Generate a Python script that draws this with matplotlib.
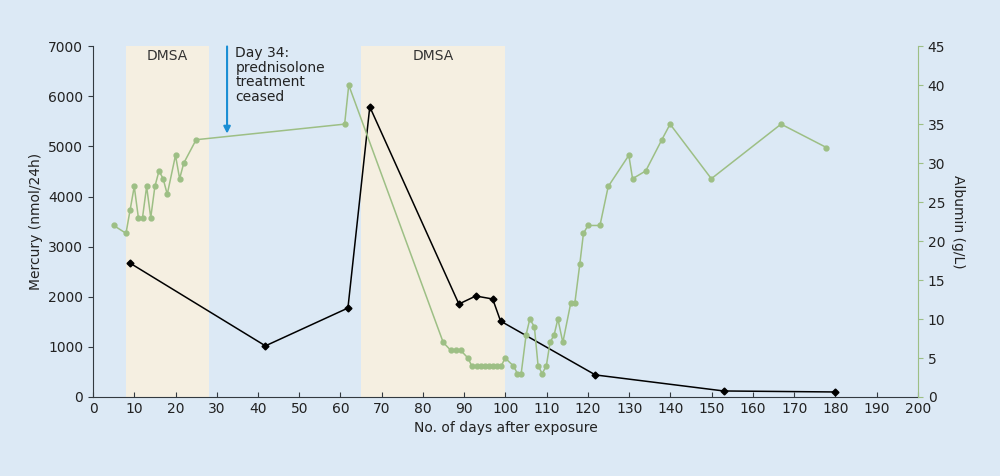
import matplotlib
matplotlib.use("Agg")
import matplotlib.pyplot as plt

hg_days = [8.9, 41.8, 61.8, 67.1, 88.7, 92.8, 96.9, 98.8, 121.8, 152.9, 180]
hg_vals = [2675, 1020, 1775, 5790, 1855, 2015, 1955, 1515, 440, 120, 100]

alb_days = [5, 8, 9, 10, 11, 12, 13, 14, 15, 16, 17, 18, 20, 21, 22, 25,
            61, 62,
            84.9, 86.7, 87.9, 89.1, 90.9, 91.8, 93, 94, 95, 96, 97, 98, 99,
            99.9, 101.9, 102.9, 103.8, 105, 105.9, 107, 107.9, 108.9, 109.9,
            110.8, 111.8, 112.7, 113.9, 115.8, 116.8, 118, 118.9, 120,
            122.9, 124.9, 129.9, 130.8, 134, 137.9, 139.9, 149.9, 166.8, 177.8]
alb_vals = [22, 21, 24, 27, 23, 23, 27, 23, 27, 29, 28, 26, 31, 28, 30, 33,
            35, 40,
            7, 6, 6, 6, 5, 4, 4, 4, 4, 4, 4, 4, 4,
            5, 4, 3, 3, 8, 10, 9, 4, 3, 4,
            7, 8, 10, 7, 12, 12, 17, 21, 22,
            22, 27, 31, 28, 29, 33, 35, 28, 35, 32]

dmsa_periods = [(8, 28), (65, 100)]

bg = "#dce9f5"
green = "#9dbf85"
dark = "#333a40"

fig = plt.figure(figsize=(10, 4.76), dpi=100, facecolor=bg)
ax = fig.add_axes([0.093, 0.166, 0.825, 0.737], facecolor=bg)
ax2 = ax.twinx()

for a, b in dmsa_periods:
    ax.axvspan(a, b, color="#f5efe1", zorder=0, lw=0)
    ax.text((a + b) / 2, 6800, "DMSA", ha="center", va="center", fontsize=10, color="#333")

ax.plot(hg_days, hg_vals, color="black", lw=1.1, marker="D", ms=3.5, zorder=5)
ax2.plot(alb_days, alb_vals, color=green, lw=1.1, marker="o", ms=3.5, zorder=4)

ax.annotate("", xy=(32.5, 5200), xytext=(32.5, 7050),
            arrowprops=dict(arrowstyle="-|>", color="#1a8ed4", lw=1.5))
ax.text(34.5, 7000, "Day 34:\nprednisolone\ntreatment\nceased", va="top", ha="left",
        fontsize=10, color="#222", linespacing=1.05)

ax.set_xlim(0, 200)
ax.set_ylim(0, 7000)
ax2.set_ylim(0, 45)
ax.set_xticks(range(0, 201, 10))
ax.set_yticks(range(0, 7001, 1000))
ax2.set_yticks(range(0, 46, 5))
ax.set_xlabel("No. of days after exposure", fontsize=10, color="#222")
ax.set_ylabel("Mercury (nmol/24h)", fontsize=10, color="#222")
ax2.set_ylabel("Albumin (g/L)", fontsize=10, color="#222", rotation=270, labelpad=14)

for s in ["top"]:
    ax.spines[s].set_visible(False)
    ax2.spines[s].set_visible(False)
ax.spines["left"].set_color(dark)
ax.spines["bottom"].set_color(dark)
ax2.spines["right"].set_color(green)
ax2.spines["left"].set_visible(False)
ax2.spines["bottom"].set_visible(False)
ax.spines["right"].set_visible(False)
ax.tick_params(axis="x", direction="in", colors="#222", labelsize=10, color=dark)
ax.tick_params(axis="y", direction="out", colors="#222", labelsize=10, color=dark)
ax2.tick_params(axis="y", direction="out", labelsize=10, labelcolor="#222", color=green)

fig.savefig("out.png", dpi=100, facecolor=bg)
